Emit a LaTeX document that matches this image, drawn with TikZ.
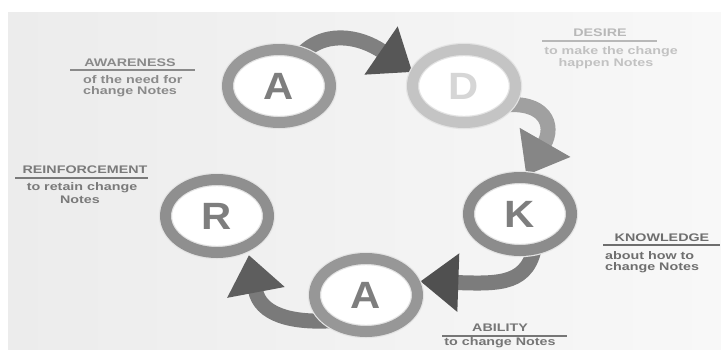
\documentclass[tikz,border=0pt]{standalone}
\usepackage{fontspec}
\setmainfont{Liberation Sans}
\usetikzlibrary{shapes.geometric,arrows.meta}
\pgfdeclarelayer{back}
\pgfdeclarelayer{mid}
\pgfsetlayers{back,mid,main}
\definecolor{bgL}{HTML}{ECECEC}
\definecolor{bgR}{HTML}{F8F8F8}
\definecolor{ringedge}{HTML}{E4E4E4}
\definecolor{ringA}{HTML}{999999}
\definecolor{ringD}{HTML}{C4C4C4}
\definecolor{ringK}{HTML}{8C8C8C}
\definecolor{ringB}{HTML}{979797}
\definecolor{ringR}{HTML}{8F8F8F}
\definecolor{letA}{HTML}{7E7E7E}
\definecolor{letD}{HTML}{D6D6D6}
\definecolor{arrA}{HTML}{808080}
\definecolor{headA}{HTML}{575757}
\definecolor{arrD}{HTML}{A0A0A0}
\definecolor{headD}{HTML}{868686}
\definecolor{arrK}{HTML}{7C7C7C}
\definecolor{headK}{HTML}{505050}
\definecolor{arrB}{HTML}{7A7A7A}
\definecolor{headB}{HTML}{5E5E5E}
\definecolor{txtAw}{HTML}{8A8A8A}
\definecolor{txtDe}{HTML}{B8B8B8}
\definecolor{txtDs}{HTML}{C2C2C2}
\definecolor{txtRe}{HTML}{7A7A7A}
\definecolor{txtKn}{HTML}{6E6E6E}
\definecolor{txtAb}{HTML}{767676}
\newcommand{\wide}[1]{\scalebox{1.3}[1]{#1}}
\begin{document}
\begin{tikzpicture}[x=1pt,y=-1pt,
  ring/.style={ellipse, draw=ringedge, double=#1, double distance=11pt,
    line width=1.2pt, fill=white, minimum width=103pt, minimum height=73pt,
    inner sep=0pt, font=\fontsize{38}{38}\selectfont\bfseries},
  bigarrow/.style 2 args={draw=#1, line width=15pt, shorten <=-8pt,
    -{Triangle[length=38pt,width=56pt,color=#2]}},
  ttl/.style={inner sep=0pt, font=\fontsize{11}{13}\selectfont\bfseries},
  sub/.style={inner sep=0pt, font=\fontsize{11}{13}\selectfont\bfseries},
  rule/.style={line width=1.4pt}]
\useasboundingbox (0,0) rectangle (721,349);
\begin{pgfonlayer}{back}
  \fill[white] (0,0) rectangle (721,349);
  \shade[left color=bgL, right color=bgR] (8,12) rectangle (721,349);
\end{pgfonlayer}

% rings
\node[ring=ringA, text=letA] (A1) at (279,86) {\scalebox{1.1}[1]{A}};
\node[ring=ringD, text=letD] (D)  at (464,86) {\scalebox{1.1}[1]{D}};
\node[ring=ringK, text=letA] (K)  at (520,214) {\scalebox{1.1}[1]{K}};
\node[ring=ringB, text=letA] (A2) at (366,295) {\scalebox{1.1}[1]{A}};
\node[ring=ringR, text=letA] (R)  at (217,216) {\scalebox{1.1}[1]{R}};

% arrows
\begin{pgfonlayer}{mid}
  \draw[bigarrow={arrA}{headA}, shorten >=3pt] (A1.55) .. controls (322,28) and (360,36) .. (D.166);
  \draw[bigarrow={arrD}{headD}, shorten >=2pt] (D.-22) .. controls (545,100) and (555,125) .. (K.82);
  \draw[bigarrow={arrK}{headK}, shorten >=6pt] (K.-68) .. controls (530,285) and (500,284) .. (A2.16);
  \draw[bigarrow={arrB}{headB}, shorten >=9pt] (A2.215) .. controls (290,324) and (260,314) .. (R.-45);
\end{pgfonlayer}

% AWARENESS
\node[ttl, text=txtAw] (tAw) at (130,63) {\wide{AWARENESS}};
\draw[rule, txtAw] (70,70) -- (195,70);
\node[sub, text=txtAw, anchor=west] (sAw1) at (83,80) {\wide{of the need for}};
\node[sub, text=txtAw, anchor=west] (sAw2) at (83,92) {\wide{change Notes}};

% DESIRE
\node[ttl, text=txtDe] (tDe) at (600,33) {\wide{DESIRE}};
\draw[rule, txtDe] (542,41) -- (657,41);
\node[sub, text=txtDs] (sDe1) at (611,52) {\wide{to make the change}};
\node[sub, text=txtDs] (sDe2) at (606,64) {\wide{happen Notes}};

% REINFORCEMENT
\node[ttl, text=txtRe] (tRe) at (85,170) {\wide{REINFORCEMENT}};
\draw[rule, txtRe] (15,178) -- (148,178);
\node[sub, text=txtRe] (sRe1) at (82,188) {\wide{to retain change}};
\node[sub, text=txtRe] (sRe2) at (80,200) {\wide{Notes}};

% KNOWLEDGE
\node[ttl, text=txtKn] (tKn) at (662,238) {\wide{KNOWLEDGE}};
\draw[rule, txtKn] (603,245) -- (720,245);
\node[sub, text=txtKn, anchor=west] (sKn1) at (605,256) {\wide{about how to}};
\node[sub, text=txtKn, anchor=west] (sKn2) at (605,268) {\wide{change Notes}};

% ABILITY
\node[ttl, text=txtAb] (tAb) at (500,328) {\wide{ABILITY}};
\draw[rule, txtAb] (442,336) -- (567,336);
\node[sub, text=txtAb] (sAb1) at (500,343) {\wide{to change Notes}};
\end{tikzpicture}
\end{document}
